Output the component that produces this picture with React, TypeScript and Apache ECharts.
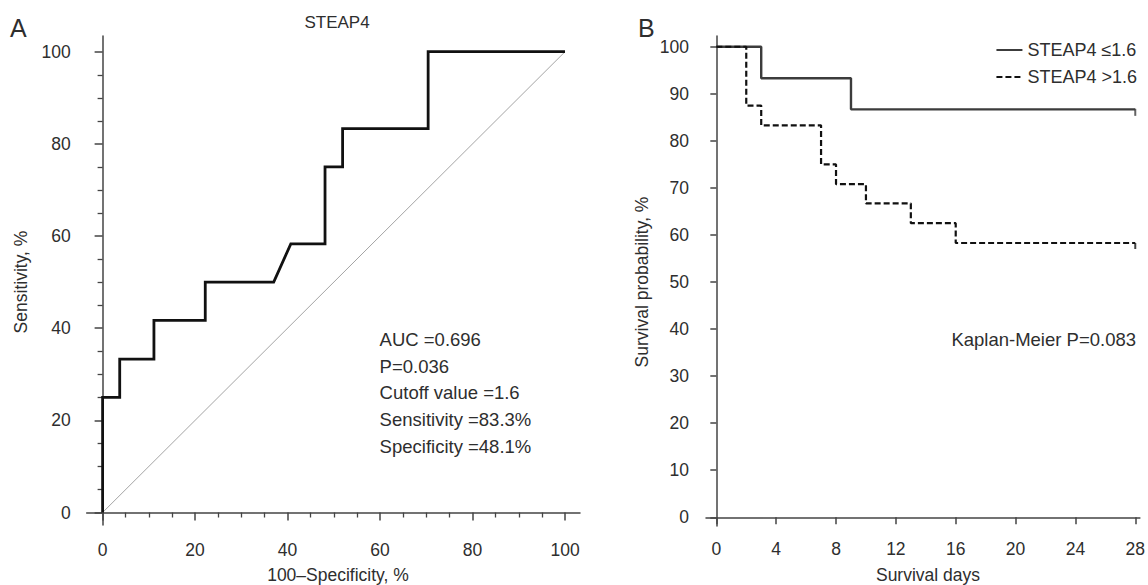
import React, { useEffect, useRef } from "react";
import * as echarts from "echarts";

// ---------- Panel A: ROC curve ----------
const rocFpr = [0, 0, 3.7, 3.7, 11.1, 11.1, 22.2, 22.2, 37.0, 40.7, 48.1, 48.1, 51.9, 51.9, 70.4, 70.4, 100];
const rocSens = [0, 25, 25, 33.3, 33.3, 41.7, 41.7, 50, 50, 58.3, 58.3, 75, 75, 83.3, 83.3, 100, 100];
const chanceX = [0, 100];
const chanceY = [0, 100];
const rocMajorTicks = [0, 20, 40, 60, 80, 100];
const rocMinorTicks = [5, 10, 15, 25, 30, 35, 45, 50, 55, 65, 70, 75, 85, 90, 95];
const rocStats = ["AUC =0.696", "P=0.036", "Cutoff value =1.6", "Sensitivity =83.3%", "Specificity =48.1%"];

// ---------- Panel B: Kaplan-Meier ----------
const lowName = "STEAP4 \u22641.6";
const highName = "STEAP4 >1.6";
const lowDays = [0, 3, 9, 28];
const lowSurv = [100, 93.3, 86.7, 86.7];
const highDays = [0, 2, 3, 7, 8, 10, 13, 16, 28];
const highSurv = [100, 87.5, 83.3, 75, 70.8, 66.7, 62.5, 58.3, 58.3];
const lowCensorDays = [28];
const lowCensorSurv = [86.7];
const highCensorDays = [28];
const highCensorSurv = [58.3];
const kmXTicks = [0, 4, 8, 12, 16, 20, 24, 28];
const kmYTicks = [0, 10, 20, 30, 40, 50, 60, 70, 80, 90, 100];
const kmPText = "Kaplan-Meier P=0.083";

const FONT = "'Liberation Sans', Arial, Helvetica, sans-serif";
const TEXT = "#2e2e2e";
const AXIS = "#444444";

function zip(a: number[], b: number[]) {
  return a.map((v, i) => [v, b[i]]);
}

export default function App() {
  const ref = useRef<HTMLDivElement>(null);

  useEffect(() => {
    document.body.style.margin = "0";
    if (!ref.current) return;
    const chart = echarts.init(ref.current, undefined, { renderer: "svg" });

    const axisLine = { show: true, lineStyle: { color: AXIS, width: 1.5 } };
    const label = (vals: number[], margin: number) => ({
      show: true,
      customValues: vals,
      margin,
      color: TEXT,
      fontSize: 17.5,
      fontFamily: FONT,
    });
    const noLabel = { show: false };

    const txt = (text: string, x: number, y: number, size: number, align = "left", rotation = 0) => ({
      type: "text",
      x,
      y,
      rotation,
      silent: true,
      style: {
        text,
        fill: TEXT,
        fontSize: size,
        fontFamily: FONT,
        align,
        verticalAlign: "middle",
      },
    });

    const option: any = {
      animation: false,
      backgroundColor: "#ffffff",
      grid: [
        { left: 86.7, top: 36, width: 493.3, height: 489 },
        { left: 706, top: 36, width: 437, height: 490 },
      ],
      xAxis: [
        {
          type: "value", gridIndex: 0, min: -3.44, max: 103.24, position: "bottom",
          axisLine, splitLine: { show: false },
          axisTick: { show: true, customValues: rocMajorTicks, length: 8, lineStyle: { color: AXIS, width: 1.5 } },
          axisLabel: label(rocMajorTicks, 16),
        },
        {
          type: "value", gridIndex: 0, min: -3.44, max: 103.24, position: "bottom",
          axisLine: { show: false }, splitLine: { show: false },
          axisTick: { show: true, customValues: rocMinorTicks, length: 5, lineStyle: { color: AXIS, width: 1.3 } },
          axisLabel: noLabel,
        },
        {
          type: "value", gridIndex: 1, min: -0.69, max: 28.31, position: "bottom",
          axisLine, splitLine: { show: false },
          axisTick: { show: true, customValues: kmXTicks, length: 7, lineStyle: { color: AXIS, width: 1.5 } },
          axisLabel: label(kmXTicks, 14),
        },
      ],
      yAxis: [
        {
          type: "value", gridIndex: 0, min: -2.71, max: 103.41, position: "left",
          axisLine, splitLine: { show: false },
          axisTick: { show: true, customValues: rocMajorTicks, length: 8, lineStyle: { color: AXIS, width: 1.5 } },
          axisLabel: label(rocMajorTicks, 16),
        },
        {
          type: "value", gridIndex: 0, min: -2.71, max: 103.41, position: "left",
          axisLine: { show: false }, splitLine: { show: false },
          axisTick: { show: true, customValues: rocMinorTicks, length: 5, lineStyle: { color: AXIS, width: 1.3 } },
          axisLabel: noLabel,
        },
        {
          type: "value", gridIndex: 1, min: -1.85, max: 102.29, position: "left",
          axisLine, splitLine: { show: false },
          axisTick: { show: true, customValues: kmYTicks, length: 6, lineStyle: { color: AXIS, width: 1.5 } },
          axisLabel: label(kmYTicks, 17),
        },
      ],
      legend: {
        data: [lowName, highName],
        orient: "vertical",
        right: 6,
        top: 36,
        itemWidth: 26,
        itemHeight: 14,
        itemGap: 9,
        itemStyle: { opacity: 0 },
        textStyle: { color: TEXT, fontSize: 18, fontFamily: FONT },
      },
      series: [
        {
          type: "line", xAxisIndex: 0, yAxisIndex: 0,
          data: zip(chanceX, chanceY), symbol: "none",
          lineStyle: { color: "#9a9a9a", width: 0.9 }, z: 2, silent: true,
        },
        {
          type: "line", xAxisIndex: 0, yAxisIndex: 0,
          data: zip(rocFpr, rocSens), symbol: "none",
          lineStyle: { color: "#111111", width: 2.8, join: "miter" }, z: 3, silent: true,
        },
        {
          name: lowName, type: "line", xAxisIndex: 2, yAxisIndex: 2, step: "end",
          data: zip(lowDays, lowSurv), symbol: "none",
          lineStyle: { color: "#3c3c3c", width: 2.4 }, itemStyle: { color: "#3c3c3c" }, z: 3,
        },
        {
          name: highName, type: "line", xAxisIndex: 2, yAxisIndex: 2, step: "end",
          data: zip(highDays, highSurv), symbol: "none",
          lineStyle: { color: "#111111", width: 2.2, type: [6, 3] }, itemStyle: { color: "#111111" }, z: 4,
        },
        {
          type: "scatter", xAxisIndex: 2, yAxisIndex: 2,
          data: zip(lowCensorDays, lowCensorSurv), symbol: "rect", symbolSize: [2, 7], symbolOffset: [0, 3],
          itemStyle: { color: "#3c3c3c" }, silent: true, z: 5,
        },
        {
          type: "scatter", xAxisIndex: 2, yAxisIndex: 2,
          data: zip(highCensorDays, highCensorSurv), symbol: "rect", symbolSize: [2, 6], symbolOffset: [0, 3],
          itemStyle: { color: "#111111" }, silent: true, z: 5,
        },
      ],
      graphic: [
        txt("A", 10, 27.5, 25),
        txt("B", 638, 27.5, 25),
        txt("STEAP4", 337, 22.5, 17, "center"),
        ...rocStats.map((s, i) => txt(s, 379.6, 339.3 + i * 26.7, 18.5)),
        txt(kmPText, 1136, 339.3, 18.5, "right"),
        txt("100\u2013Specificity, %", 338, 575, 17.5, "center"),
        txt("Survival days", 928, 575, 17.5, "center"),
        txt("Sensitivity, %", 21, 282, 17.5, "center", Math.PI / 2),
        txt("Survival probability, %", 641.5, 282, 17.5, "center", Math.PI / 2),
      ],
    };

    chart.setOption(option);
    return () => chart.dispose();
  }, []);

  return <div ref={ref} style={{ width: 1148, height: 585 }} />;
}
